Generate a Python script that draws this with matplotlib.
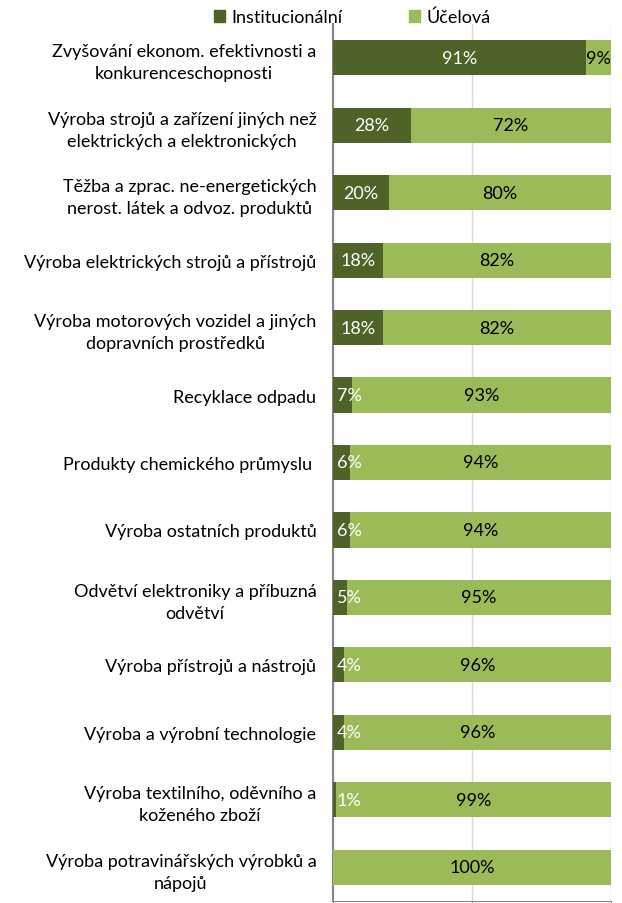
import matplotlib
matplotlib.use('Agg')
import matplotlib.pyplot as plt
from matplotlib.patches import Patch

plt.rcParams['font.family'] = ['Lato', 'DejaVu Sans']

# Data
categories = [
    'Zvyšování ekonom. efektivnosti a\nkonkurenceschopnosti',
    'Výroba strojů a zařízení jiných než\nelektrických a elektronických',
    'Těžba a zprac. ne-energetických\nnerost. látek a odvoz. produktů',
    'Výroba elektrických strojů a přístrojů',
    'Výroba motorových vozidel a jiných\ndopravních prostředků',
    'Recyklace odpadu',
    'Produkty chemického průmyslu ',
    'Výroba ostatních produktů',
    'Odvětví elektroniky a příbuzná\nodvětví',
    'Výroba přístrojů a nástrojů',
    'Výroba a výrobní technologie',
    'Výroba textilního, oděvního a\nkoženého zboží',
    'Výroba potravinářských výrobků a\nnápojů',
]
institucionalni = [91, 28, 20, 18, 18, 7, 6, 6, 5, 4, 4, 1, 0]
ucelova = [9, 72, 80, 82, 82, 93, 94, 94, 95, 96, 96, 99, 100]
series_names = ['Institucionální', 'Účelová']

dark = '#4F6228'
light = '#9BBB59'
fs = 13

fig = plt.figure(figsize=(6.22, 9.04), dpi=100)
ax = fig.add_axes([333 / 622, 1 - 902 / 904, 278 / 622, 877 / 904])

y = list(range(len(categories)))
ax.barh(y, institucionalni, height=0.52, color=dark, zorder=3)
ax.barh(y, ucelova, left=institucionalni, height=0.52, color=light, zorder=3)

# popisky hodnot
for i, (a, b) in enumerate(zip(institucionalni, ucelova)):
    if a > 0:
        xa = max(a / 2.0, 5.8)
        ax.text(xa, i, '{0}%'.format(a), ha='center', va='center',
                color='white', fontsize=fs, zorder=4)
    if b > 0:
        ax.text(a + b / 2.0, i, '{0}%'.format(b), ha='center', va='center',
                color='black', fontsize=fs, zorder=4)

ax.set_xlim(0, 100)
ax.set_ylim(len(categories) - 0.5, -0.5)
ax.set_yticks(y)
ax.set_yticklabels(categories, fontsize=fs, multialignment='center',
                   linespacing=1.45)
ax.tick_params(axis='y', length=0, pad=12)
ax.set_xticks([0, 50, 100])
ax.set_xticklabels([])
ax.tick_params(axis='x', length=5, color='#868686', direction='out')
ax.grid(axis='x', color='#D9D9D9', linewidth=1, zorder=0)
for s in ['top', 'right']:
    ax.spines[s].set_visible(False)
ax.spines['left'].set_color('#868686')
ax.spines['bottom'].set_color('#868686')
ax.spines['left'].set_linewidth(1.5)

handles = [Patch(color=dark), Patch(color=light)]
fig.legend(handles, series_names, loc='center', bbox_to_anchor=(352 / 622, 1 - 18 / 904),
           ncol=2, frameon=False, fontsize=fs, handlelength=0.6, handleheight=0.6,
           handletextpad=0.35, columnspacing=3.7, borderpad=0, borderaxespad=0)

fig.savefig('out.png', dpi=100)
